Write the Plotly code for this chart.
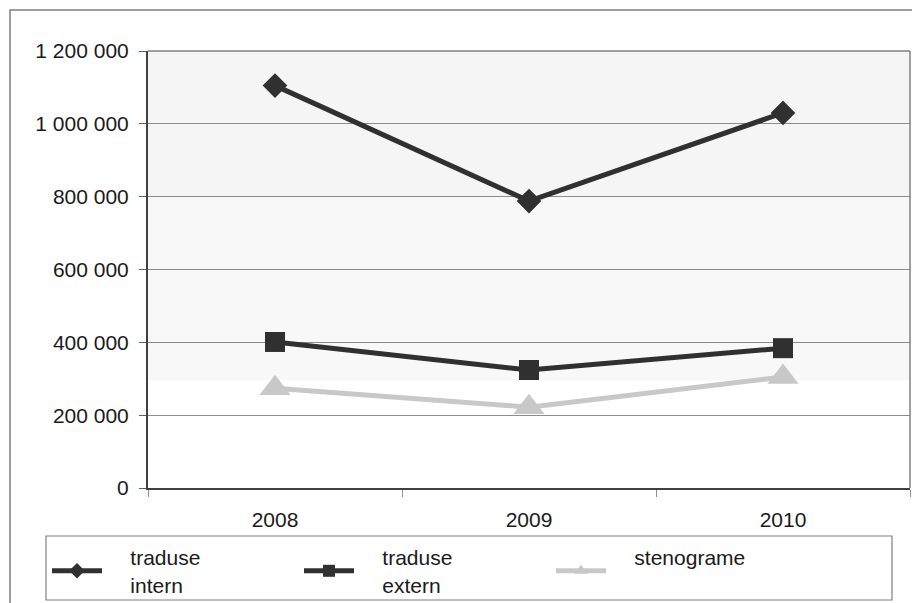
import plotly.graph_objects as go

years = ["2008", "2009", "2010"]
traduse_intern = [1105000, 788000, 1030000]
traduse_extern = [401000, 324000, 384000]
stenograme = [274000, 222000, 305000]
y_ticks = [0, 200000, 400000, 600000, 800000, 1000000, 1200000]
names = ["traduse<br>intern", "traduse<br>extern", "stenograme<br>&nbsp;"]

OFF = 8  # page body offset
W, H = 920 - OFF, 603 - OFF
L, T = 148 - OFF, 51 - OFF
R = W - (910 - OFF)
B = H - (488 - OFF)
pw, ph = W - L - R, H - T - B

def px_x(x):
    return (x - OFF - L) / pw

def px_y(y):
    return (H - B - (y - OFF)) / ph

def pad(name):
    sp = "&nbsp;" * 4
    return "<br>".join(sp + part for part in name.split("<br>"))

dark = "#303030"
light = "#c8c8c8"

fig = go.Figure()
fig.add_trace(go.Scatter(
    x=years, y=traduse_intern, name=pad(names[0]), mode="lines+markers",
    line=dict(color=dark, width=5),
    marker=dict(symbol="diamond", size=19, color=dark)))
fig.add_trace(go.Scatter(
    x=years, y=traduse_extern, name=pad(names[1]), mode="lines+markers",
    line=dict(color=dark, width=5),
    marker=dict(symbol="square", size=20, color=dark)))
fig.add_trace(go.Scatter(
    x=years, y=stenograme, name=pad(names[2]), mode="lines+markers",
    line=dict(color=light, width=5),
    marker=dict(symbol="triangle-up", size=27, color=light)))

shapes = [
    dict(type="rect", xref="paper", yref="y", x0=0, x1=1, y0=800000, y1=1200000,
         fillcolor="#f5f5f5", line=dict(width=0), layer="below"),
    dict(type="rect", xref="paper", yref="y", x0=0, x1=1, y0=295000, y1=800000,
         fillcolor="#f8f8f8", line=dict(width=0), layer="below"),
    # outer chart border
    dict(type="rect", xref="paper", yref="paper",
         x0=px_x(10), x1=px_x(935), y0=px_y(10), y1=px_y(620),
         line=dict(color="#808080", width=1.5), fillcolor="rgba(0,0,0,0)"),
    # legend border
    dict(type="rect", xref="paper", yref="paper",
         x0=px_x(46), x1=px_x(892), y0=px_y(536), y1=px_y(600),
         line=dict(color="#808080", width=1.2), fillcolor="rgba(0,0,0,0)"),
    # top / right border of plot area
    dict(type="line", xref="paper", yref="paper", x0=0, x1=1, y0=1, y1=1,
         line=dict(color="#808080", width=1.5)),
    dict(type="line", xref="paper", yref="paper", x0=1, x1=1, y0=0, y1=1,
         line=dict(color="#808080", width=1.5)),
]

fig.update_layout(
    width=W, height=H,
    margin=dict(l=L, r=R, t=T, b=B, autoexpand=False),
    paper_bgcolor="white", plot_bgcolor="white",
    separators=". ",
    font=dict(family="Liberation Sans, Arial, sans-serif", size=21, color="#1a1a1a"),
    shapes=shapes,
    showlegend=True,
    legend=dict(
        orientation="h", x=px_x(47), y=px_y(537), xanchor="left", yanchor="top",
        borderwidth=0, bgcolor="rgba(0,0,0,0)",
        entrywidth=187, entrywidthmode="pixels", itemwidth=50,
        font=dict(size=21), itemsizing="constant", tracegroupgap=0,
    ),
    xaxis=dict(
        type="category", range=[-0.5, 2.5], showgrid=False,
        showline=True, linecolor="#404040", linewidth=2,
        ticks="outside", tickson="boundaries", ticklen=7, tickcolor="#909090",
        ticklabelstandoff=12, zeroline=False,
    ),
    yaxis=dict(
        range=[0, 1200000], tickvals=y_ticks, tickformat=",d",
        showgrid=True, gridcolor="#8c8c8c", gridwidth=1,
        showline=True, linecolor="#404040", linewidth=2,
        ticks="outside", ticklen=7, tickcolor="#606060",
        ticklabelstandoff=6, zeroline=False,
    ),
)

fig.write_html("out.html")
